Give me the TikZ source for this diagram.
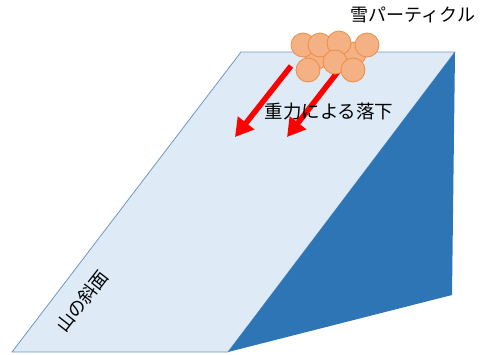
\documentclass[tikz,border=0pt]{standalone}
\usepackage{fontspec}
\newfontfamily\jpfont{Noto Sans CJK JP}
\usepackage{tkz-euclide}
\usetikzlibrary{arrows.meta}
\definecolor{SlopeClr}{RGB}{222,235,247}
\definecolor{EdgeClr}{RGB}{110,150,200}
\definecolor{SideClr}{RGB}{46,117,182}
\definecolor{SnowClr}{RGB}{244,177,131}
\definecolor{SnowEdge}{RGB}{240,140,70}

\begin{document}
\begin{tikzpicture}[x=1pt,y=-1pt,
  snow/.style={fill=SnowClr,draw=SnowEdge,line width=0.8pt},
  fall/.style={draw=red,line width=5.5pt,-{Triangle[width=20pt,length=18pt]}},
  label/.style={font=\jpfont\fontsize{18}{21}\selectfont,inner sep=0pt}]
\useasboundingbox (0,0) rectangle (486,354);

\tkzDefPoints{12/352/A,228/352/B,455/52/C,241/52/D,452/295/E}

% slope face and shaded side
\tkzFillPolygon[fill=SlopeClr](A,B,C,D)
\tkzDrawPolygon[color=EdgeClr,line width=0.8pt](A,B,C,D)
\tkzFillPolygon[fill=SideClr](B,C,E)

% falling arrows
\coordinate (t1) at (291,66);
\coordinate (h1) at (235,137);
\coordinate (t2) at (340,69);
\coordinate (h2) at (287,137);
\draw[fall] (t1) -- (h1);
\draw[fall] (t2) -- (h2);

% snow particles
\foreach \x/\y in {317/57,354/54,303/45,320/45,339/43,367/45,335/62,308/70,353/70}
  \draw[snow] (\x,\y) circle[radius=12pt];

\node[label] (snow) at (413,15) {雪パーティクル};
\node[label,font=\jpfont\fontsize{18.5}{21}\selectfont] (grav) at (329,112) {重力による落下};
\node[label,rotate=52] (slope) at (82,301) {山の斜面};

\end{tikzpicture}
\end{document}
